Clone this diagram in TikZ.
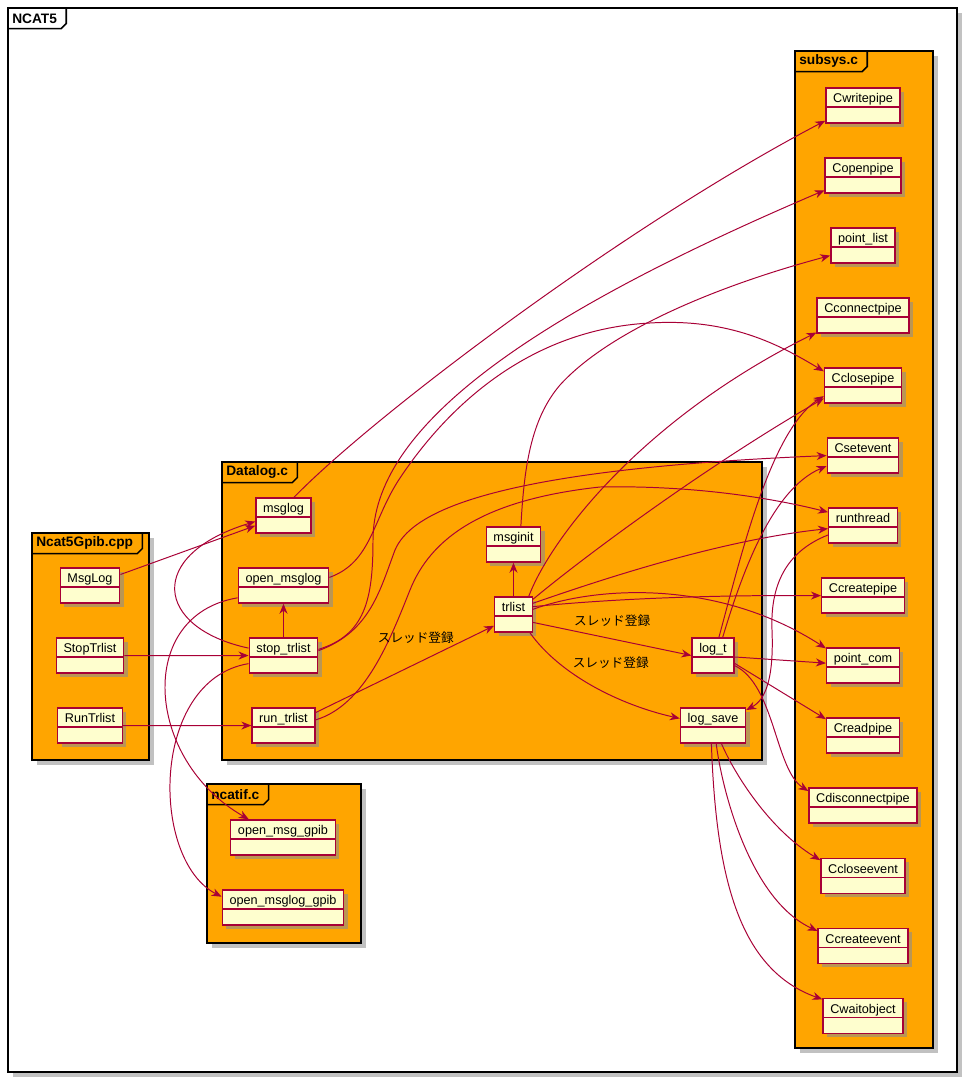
\documentclass[tikz,border=0pt]{standalone}
\usepackage{fontspec}
\setmainfont{Liberation Sans}
\newfontfamily\jpfont{Noto Sans CJK JP}
\usetikzlibrary{positioning,arrows.meta,shadows}
\definecolor{pkgorange}{HTML}{FFA500}
\definecolor{fnyellow}{HTML}{FEFECE}
\definecolor{fnred}{HTML}{A80036}
\tikzset{fnbox/.style={draw=fnred, fill=fnyellow, line width=1pt, minimum height=0.875cm, inner xsep=0.18cm, inner ysep=0pt, text height=0.37cm, text depth=0.505cm, font=\fontsize{9}{11}\selectfont, drop shadow={shadow xshift=0.1cm, shadow yshift=-0.1cm, fill=black!45, opacity=0.6}, path picture={\draw[fnred, line width=1pt] ([yshift=-0.475cm]path picture bounding box.north west) -- ([yshift=-0.475cm]path picture bounding box.north east);}},}
\tikzset{call/.style={draw=fnred, line width=0.7pt, -{Stealth[length=0.25cm, width=0.2cm, inset=0.08cm]}},}
\tikzset{lbl/.style={font=\jpfont\fontsize{9}{11}\selectfont, inner sep=0pt},}
\tikzset{pkgtitle/.style={font=\bfseries\fontsize{9.75}{11}\selectfont, inner xsep=0.1cm, inner ysep=0pt, minimum height=0.5cm},}
% package frame: name, fill, x0, y0, x1, y1, title
\newcommand{\pkgframe}[7]{%
  \fill[black!40, opacity=0.6] (#3+5,#4+5) rectangle (#5+5,#6+5);
  \filldraw[fill=#2, draw=black, line width=1.1pt] (#3,#4) rectangle (#5,#6);
  \node[pkgtitle, anchor=north west] (#1) at (#3,#4) {#7};
  \draw[line width=1.1pt] ([xshift=0.125cm]#1.north east) -- ([xshift=0.125cm,yshift=0.125cm]#1.south east) -- (#1.south east) -- (#1.south west);
}
\begin{document}
\begin{tikzpicture}[x=0.025cm, y=-0.025cm, node distance=1.75cm]
\useasboundingbox (0,0) rectangle (968,1084);
\pkgframe{ncat5}{white}{8}{8}{957}{1072}{NCAT5}
\pkgframe{gpibcpp}{pkgorange}{32}{533}{149}{760}{Ncat5Gpib.cpp}
\pkgframe{datalogc}{pkgorange}{222}{462}{762}{760}{Datalog.c}
\pkgframe{ncatifc}{pkgorange}{207}{784}{361}{943}{ncatif.c}
\pkgframe{subsysc}{pkgorange}{795}{51}{933}{1048}{subsys.c}

% Ncat5Gpib.cpp
\node[fnbox] (MsgLog) at (90,585.5) {MsgLog};
\node[fnbox] (StopTrlist) [below of=MsgLog] {StopTrlist};
\node[fnbox] (RunTrlist) [below of=StopTrlist] {RunTrlist};
% Datalog.c
\node[fnbox] (msglog) at (283.5,515.5) {msglog};
\node[fnbox] (openmsglog) [below of=msglog] {open\_msglog};
\node[fnbox] (stoptrlist) [below of=openmsglog] {stop\_trlist};
\node[fnbox] (runtrlist) [below of=stoptrlist] {run\_trlist};
\node[fnbox] (msginit) at (513.5,544.5) {msginit};
\node[fnbox] (trlist) [below of=msginit] {trlist};
\node[fnbox] (logt) at (713,655.5) {log\_t};
\node[fnbox] (logsave) [below of=logt] {log\_save};
% ncatif.c
\node[fnbox] (openmsggpib) at (283,837.5) {open\_msg\_gpib};
\node[fnbox] (openmsgloggpib) [below of=openmsggpib] {open\_msglog\_gpib};
% subsys.c
\node[fnbox] (Cwritepipe) at (863,105.5) {Cwritepipe};
\node[fnbox] (Copenpipe) [below of=Cwritepipe] {Copenpipe};
\node[fnbox] (pointlist) [below of=Copenpipe] {point\_list};
\node[fnbox] (Cconnectpipe) [below of=pointlist] {Cconnectpipe};
\node[fnbox] (Cclosepipe) [below of=Cconnectpipe] {Cclosepipe};
\node[fnbox] (Csetevent) [below of=Cclosepipe] {Csetevent};
\node[fnbox] (runthread) [below of=Csetevent] {runthread};
\node[fnbox] (Ccreatepipe) [below of=runthread] {Ccreatepipe};
\node[fnbox] (pointcom) [below of=Ccreatepipe] {point\_com};
\node[fnbox] (Creadpipe) [below of=pointcom] {Creadpipe};
\node[fnbox] (Cdisconnectpipe) [below of=Creadpipe] {Cdisconnectpipe};
\node[fnbox] (Ccloseevent) [below of=Cdisconnectpipe] {Ccloseevent};
\node[fnbox] (Ccreateevent) [below of=Ccloseevent] {Ccreateevent};
\node[fnbox] (Cwaitobject) [below of=Ccreateevent] {Cwaitobject};

% calls
\draw[call] (MsgLog) -- (msglog);
\draw[call] (StopTrlist) -- (stoptrlist);
\draw[call] (RunTrlist) -- (runtrlist);
\draw[call] (stoptrlist.168) .. controls (155,628) and (145,555) .. (msglog.192);
\draw[call] (stoptrlist) -- (openmsglog);
\draw[call] (openmsglog.195) .. controls (135,615) and (145,760) .. (openmsggpib.152);
\draw[call] (stoptrlist.193) .. controls (150,680) and (150,860) .. (openmsgloggpib.170);
\draw[call] (msglog.60) .. controls (374,415) and (626,225) .. (Cwritepipe.202);
\draw[call] (stoptrlist.10) .. controls (365,635) and (373,600) .. (373,540) .. controls (373,430) and (520,320) .. (Copenpipe.201);
\draw[call] (openmsglog.10) .. controls (372,562) and (372,520) .. (400,478) .. controls (440,418) and (520,330) .. (650,323) .. controls (730,318) and (780,345) .. (Cclosepipe.160);
\draw[call] (stoptrlist.8) .. controls (370,632) and (380,590) .. (395,550) .. controls (410,515) and (480,470) .. (Csetevent.west);
\draw[call] (runtrlist.10) .. controls (365,705) and (390,640) .. (410,590) .. controls (430,540) and (480,500) .. (600,487) .. controls (700,485) and (780,500) .. (runthread.159);
\draw[call] (runtrlist.22) -- node[lbl, xshift=0.275cm, yshift=0.79cm] (lblrun) {スレッド登録} (trlist.210);
\draw[call] (trlist) -- (msginit);
\draw[call] (msginit.68) .. controls (524,470) and (530,420) .. (560,385) .. controls (610,330) and (720,285) .. (pointlist.197);
\draw[call] (trlist.50) .. controls (550,540) and (640,420) .. (Cconnectpipe.200);
\draw[call] (trlist.38) .. controls (580,560) and (700,470) .. (Cclosepipe.198);
\draw[call] (trlist.30) .. controls (600,580) and (720,540) .. (runthread.185);
\draw[call] (trlist.22) .. controls (620,598) and (720,595) .. (Ccreatepipe.west);
\draw[call] (trlist.15) .. controls (600,585) and (720,580) .. (pointcom.155);
\draw[call] (trlist.338) -- node[lbl, yshift=0.45cm] (lbllogt) {スレッド登録} (logt.west);
\draw[call] (trlist.312) .. controls (560,675) and (620,705) .. node[lbl, xshift=0.425cm, yshift=0.6cm] (lbllogsave) {スレッド登録} (logsave.168);
\draw[call] (logt.72) .. controls (740,560) and (770,430) .. (Cclosepipe.195);
\draw[call] (logt.62) .. controls (740,580) and (770,490) .. (Csetevent.196);
\draw[call] (logt) -- (pointcom);
\draw[call] (logt.340) -- (Creadpipe.156);
\draw[call] (logt.335) .. controls (775,685) and (775,770) .. (Cdisconnectpipe.165);
\draw[call] (runthread.195) .. controls (790,550) and (770,580) .. (772,630) .. controls (774,680) and (765,700) .. (logsave.25);
\draw[call] (logsave.295) .. controls (735,775) and (770,830) .. (Ccloseevent.160);
\draw[call] (logsave.280) .. controls (722,790) and (750,900) .. (Ccreateevent.162);
\draw[call] (logsave.265) .. controls (716,880) and (740,970) .. (Cwaitobject.158);
\end{tikzpicture}
\end{document}
